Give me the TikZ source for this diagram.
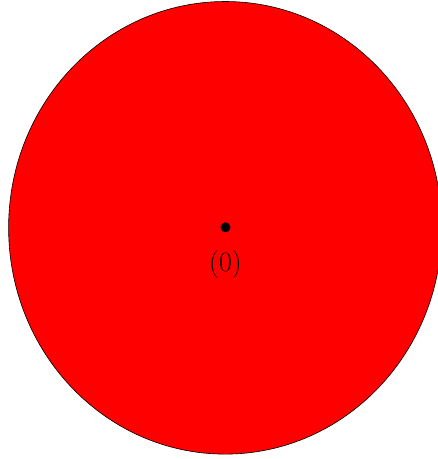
\documentclass[tikz,border=0pt]{standalone}
\begin{document}
\begin{tikzpicture}[x=1pt,y=-1pt,
  disc/.style={fill=red,draw=black,line width=0.6pt},
  dotstyle/.style={circle,fill=black,inner sep=0pt,minimum size=10pt}]
\useasboundingbox (0,0) rectangle (438,459);
\begin{scope}
\clip (0,0) rectangle (438,459);
\draw[disc] (225.2,227.8) ellipse [x radius=216.6, y radius=226.3];
\end{scope}
\node[dotstyle] (o) at (225.5,227.3) {};
\node[font=\fontsize{28}{32}\selectfont,inner sep=0pt] (lbl) at (225.5,265) {(0)};
\end{tikzpicture}
\end{document}
